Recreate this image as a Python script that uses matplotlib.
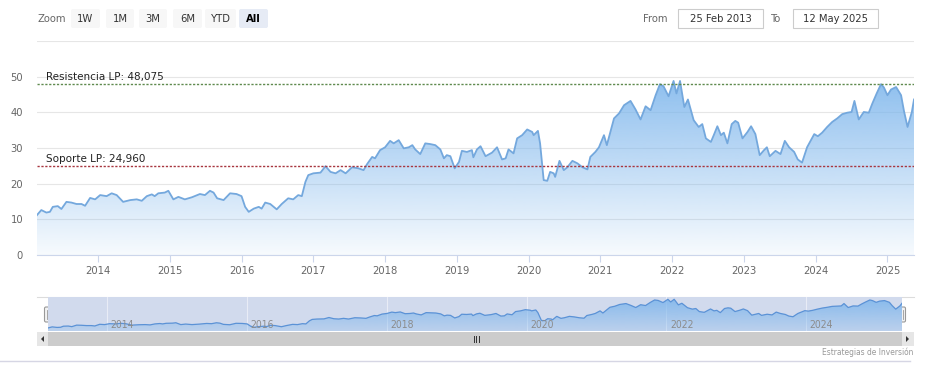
import matplotlib
matplotlib.use("Agg")
import matplotlib.pyplot as plt
from matplotlib.patches import Rectangle, FancyBboxPatch, Polygon
from matplotlib.colors import to_rgb
import numpy as np

# fecha (año decimal) y cotizacion
t = [2013.15, 2013.21, 2013.28, 2013.33, 2013.37, 2013.44, 2013.49, 2013.56, 2013.63, 2013.70, 2013.77, 2013.82, 2013.89, 2013.96,
     2014.03, 2014.12, 2014.19, 2014.26, 2014.35, 2014.45, 2014.54, 2014.61, 2014.68, 2014.75, 2014.79, 2014.84, 2014.93, 2014.98,
     2015.05, 2015.12, 2015.21, 2015.31, 2015.42, 2015.49, 2015.56, 2015.61, 2015.66, 2015.75, 2015.84, 2015.93,
     2016.00, 2016.05, 2016.10, 2016.17, 2016.24, 2016.28, 2016.33, 2016.40, 2016.49, 2016.56, 2016.65, 2016.72, 2016.79, 2016.84, 2016.89, 2016.93,
     2017.00, 2017.10, 2017.17, 2017.24, 2017.31, 2017.38, 2017.45, 2017.54, 2017.63, 2017.70, 2017.75, 2017.82, 2017.86, 2017.93,
     2018.00, 2018.07, 2018.12, 2018.19, 2018.26, 2018.33, 2018.38, 2018.42, 2018.49, 2018.56, 2018.63, 2018.70, 2018.77, 2018.82, 2018.86, 2018.91, 2018.97,
     2019.03, 2019.07, 2019.14, 2019.21, 2019.23, 2019.28, 2019.33, 2019.40, 2019.49, 2019.56, 2019.63, 2019.68, 2019.72, 2019.79, 2019.84, 2019.91, 2019.98,
     2020.05, 2020.07, 2020.13, 2020.16, 2020.21, 2020.26, 2020.30, 2020.35, 2020.37, 2020.43, 2020.49, 2020.54, 2020.61, 2020.68, 2020.75, 2020.82, 2020.86, 2020.93, 2020.98,
     2021.05, 2021.09, 2021.19, 2021.26, 2021.33, 2021.42, 2021.49, 2021.56, 2021.63, 2021.70, 2021.77, 2021.83, 2021.88, 2021.95,
     2022.02, 2022.06, 2022.11, 2022.17, 2022.22, 2022.30, 2022.37, 2022.42, 2022.47, 2022.54, 2022.58, 2022.63, 2022.68, 2022.72, 2022.77, 2022.83, 2022.88, 2022.92, 2022.98,
     2023.05, 2023.10, 2023.16, 2023.22, 2023.28, 2023.32, 2023.36, 2023.44, 2023.51, 2023.57, 2023.63, 2023.70, 2023.75, 2023.81, 2023.88, 2023.98,
     2024.03, 2024.09, 2024.16, 2024.23, 2024.30, 2024.37, 2024.44, 2024.50, 2024.54, 2024.60, 2024.67, 2024.74, 2024.79, 2024.85, 2024.91, 2024.95,
     2025.00, 2025.05, 2025.12, 2025.19, 2025.23, 2025.28, 2025.34, 2025.37]
price = [11.2, 12.6, 11.9, 12.1, 13.5, 13.7, 12.9, 14.9, 14.7, 14.3, 14.3, 13.8, 16.0, 15.6,
         16.8, 16.5, 17.3, 16.8, 14.9, 15.4, 15.6, 15.2, 16.5, 17.0, 16.5, 17.3, 17.5, 18.0,
         15.6, 16.3, 15.6, 16.2, 17.1, 16.8, 18.0, 17.5, 15.9, 15.4, 17.3, 17.1,
         16.5, 13.5, 12.1, 13.0, 13.5, 13.0, 14.7, 14.3, 12.8, 14.3, 15.9, 15.6, 16.8, 16.5, 20.5, 22.4,
         22.9, 23.1, 24.9, 23.3, 22.9, 23.8, 22.9, 24.6, 24.3, 23.8, 25.5, 27.5, 27.1, 29.4,
         30.2, 32.0, 31.3, 32.2, 29.9, 30.2, 30.8, 29.6, 28.3, 31.3, 31.1, 30.8, 29.6, 27.1, 28.0, 27.7, 24.3,
         26.1, 29.2, 28.9, 29.4, 27.4, 29.6, 30.5, 27.7, 28.7, 30.2, 26.8, 27.1, 29.6, 28.5, 32.7, 33.6, 35.2,
         34.5, 33.6, 34.8, 31.3, 21.0, 20.8, 23.3, 22.9, 21.9, 26.4, 23.8, 24.6, 26.4, 25.7, 24.6, 24.0, 27.5, 28.9, 30.2,
         33.6, 30.8, 38.3, 39.7, 42.0, 43.2, 40.8, 38.0, 41.7, 40.6, 44.8, 47.9, 47.3, 44.5,
         48.8, 45.3, 48.8, 41.5, 43.6, 37.8, 35.9, 36.7, 32.7, 31.7, 33.6, 36.1, 33.6, 34.3, 31.3, 36.7, 37.6, 37.1, 32.7,
         34.5, 36.1, 33.9, 28.0, 29.4, 30.2, 27.7, 29.2, 28.3, 32.0, 30.2, 28.9, 26.8, 25.9, 30.2, 33.9,
         33.3, 34.3, 35.9, 37.3, 38.3, 39.5, 39.9, 40.1, 43.2, 38.0, 40.1, 39.9, 42.5, 45.3, 47.9, 47.0,
         44.8, 46.4, 47.1, 44.8, 40.4, 35.9, 40.1, 43.6]

resistencia = 48.075
soporte = 24.960
years = list(range(2014, 2026))
nav_years = [2014, 2016, 2018, 2020, 2022, 2024]
y_ticks = [0, 10, 20, 30, 40, 50, 60]
zoom_buttons = ["1W", "1M", "3M", "6M", "YTD", "All"]
date_from = "25 Feb 2013"
date_to = "12 May 2025"

W, H = 925, 374
NARROW = ["Liberation Sans Narrow", "DejaVu Sans"]
BLUE = "#7cb5ec"
LINE = "#74a8dd"

fig = plt.figure(figsize=(W / 100, H / 100), dpi=100)


def px_axes(l, top, r, b, **kw):
    return fig.add_axes([l / W, 1 - b / H, (r - l) / W, (b - top) / H], **kw)


def gradient_area(ax, x, y, ymax, a_top, a_bot):
    poly = ax.fill_between(x, y, 0, facecolor="none", edgecolor="none")
    rgba = np.zeros((256, 1, 4))
    rgba[..., :3] = to_rgb(BLUE)
    rgba[..., 3] = np.linspace(a_bot, a_top, 256).reshape(-1, 1)
    im = ax.imshow(rgba, extent=[min(x), max(x), 0, ymax], origin="lower",
                   aspect="auto", zorder=2)
    im.set_clip_path(poly.get_paths()[0], transform=ax.transData)


def ui_text(x, y, s, **kw):
    kw.setdefault("fontsize", 8)
    kw.setdefault("va", "center")
    return bg.text(x, y, s, family=NARROW, stretch="condensed", **kw)


# fondo / elementos de interfaz en pixeles
bg = fig.add_axes([0, 0, 1, 1], zorder=-5)
bg.set_xlim(0, W)
bg.set_ylim(H, 0)
bg.axis("off")

ui_text(37, 18.5, "Zoom", color="#666666")
btn_x = [71, 106, 139, 173, 205, 239]
btn_w = [29, 28, 28, 29, 31, 29]
for lab, bx, bw in zip(zoom_buttons, btn_x, btn_w):
    sel = lab == "All"
    bg.add_patch(FancyBboxPatch((bx, 9), bw, 19, boxstyle="round,pad=0,rounding_size=2",
                                fc="#e6ebf5" if sel else "#f7f7f7", ec="none"))
    ui_text(bx + bw / 2, 18.5, lab, color="#000000" if sel else "#333333",
            ha="center", weight="bold" if sel else "normal")

ui_text(643, 18.5, "From", color="#666666")
bg.add_patch(Rectangle((678, 9), 85, 19, fc="white", ec="#cccccc", lw=0.8))
ui_text(720.5, 18.5, date_from, color="#333333", ha="center")
ui_text(771, 18.5, "To", color="#666666")
bg.add_patch(Rectangle((793, 9), 85, 19, fc="white", ec="#cccccc", lw=0.8))
ui_text(835.5, 18.5, date_to, color="#333333", ha="center")

# grafico principal
ax = px_axes(37, 41, 914, 255)
x0, x1 = 2013.15, 2025.37
gradient_area(ax, t, price, 50, 0.88, 0.06)
ax.plot(t, price, color=LINE, lw=1.3, zorder=3)
ax.set_xlim(x0, x1)
ax.set_ylim(0, 60)
ax.set_yticks(y_ticks)
ax.set_yticklabels([str(v) if v < 60 else "" for v in y_ticks])
ax.set_xticks(years)
ax.set_xticklabels([str(y) for y in years])
ax.grid(axis="y", color="#e6e6e6", lw=0.8)
ax.set_axisbelow(True)
for s in ["top", "right", "left"]:
    ax.spines[s].set_visible(False)
ax.spines["bottom"].set_color("#ccd6eb")
ax.tick_params(axis="y", length=0, pad=10, labelsize=8, labelcolor="#666666")
ax.tick_params(axis="x", length=5, color="#ccd6eb", pad=3, labelsize=8, labelcolor="#666666")
for lab in ax.get_xticklabels() + ax.get_yticklabels():
    lab.set_family(NARROW)
    lab.set_stretch("condensed")

for val, col, name in [(resistencia, "#5f8a4e", "Resistencia LP"), (soporte, "#a8363f", "Soporte LP")]:
    ax.axhline(val, color=col, ls=(0, (1.6, 1.2)), lw=1, zorder=4)
    ax.annotate(f"{name}: {val:.3f}".replace(".", ","), xy=(0, val),
                xycoords=("axes fraction", "data"), xytext=(6.5, 1.2),
                textcoords="offset points", fontsize=7.5, color="#222222", va="bottom")

# navegador
nav = px_axes(48, 297, 902, 331)
nav.set_facecolor("#d1daed")
gradient_area(nav, t, price, max(price), 0.85, 0.15)
nav.plot(t, price, color="#5b92d6", lw=0.9, zorder=3)
nav.set_xlim(x0, x1)
nav.set_ylim(min(price) - 4, max(price) + 3)
for y in nav_years:
    nav.axvline(y, color="#e8ecf6", lw=0.8, zorder=1)
    txt = nav.annotate(str(y), xy=(y, 0), xycoords=("data", "axes fraction"), xytext=(2.5, 2),
                       textcoords="offset points", fontsize=7.5, color="#8c8c8c",
                       family=NARROW, zorder=4)
    txt.set_stretch("condensed")
nav.set_xticks([])
nav.set_yticks([])
for s in nav.spines.values():
    s.set_visible(False)
bg.plot([37, 914], [297, 297], color="#dcdcdc", lw=0.8)

# asas del navegador
for hx in [48, 902]:
    bg.add_patch(FancyBboxPatch((hx - 3.5, 307), 7, 15, boxstyle="round,pad=0,rounding_size=1.5",
                                fc="#f2f2f2", ec="#999999", lw=0.8, zorder=6))
    bg.plot([hx - 1, hx - 1], [310, 319], color="#999999", lw=0.6, zorder=7)
    bg.plot([hx + 1, hx + 1], [310, 319], color="#999999", lw=0.6, zorder=7)

# barra de desplazamiento
bg.add_patch(Rectangle((37, 332), 877, 14, fc="#f2f2f2", ec="none"))
bg.add_patch(Rectangle((48, 332), 854, 14, fc="#cccccc", ec="none"))
bg.add_patch(Rectangle((37, 332), 11, 14, fc="#e6e6e6", ec="none"))
bg.add_patch(Rectangle((902, 332), 12, 14, fc="#e6e6e6", ec="none"))
bg.add_patch(Polygon([[44, 336], [44, 342], [41, 339]], closed=True, fc="#333333", ec="none"))
bg.add_patch(Polygon([[906, 336], [906, 342], [909, 339]], closed=True, fc="#333333", ec="none"))
for gx in [473.5, 476, 478.5]:
    bg.plot([gx, gx], [336, 342], color="#333333", lw=0.7)

ui_text(913, 352, "Estrategias de Inversión", fontsize=6, color="#999999", ha="right")
bg.plot([0, 910], [361, 361], color="#d6d6e4", lw=1)

fig.savefig("out.png", dpi=100)
